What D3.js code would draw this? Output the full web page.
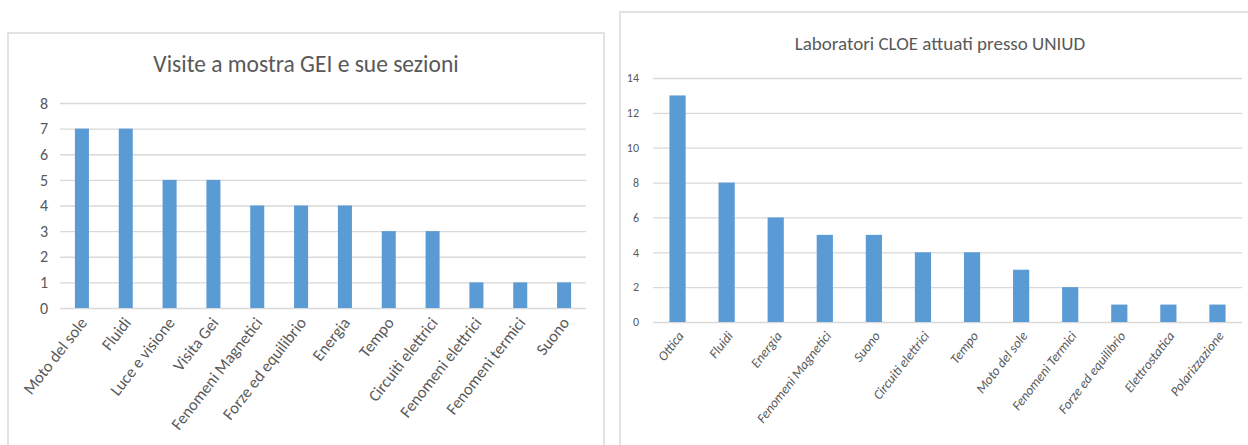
<!DOCTYPE html>
<html>
<head>
<meta charset="utf-8">
<script src="https://cdn.jsdelivr.net/npm/d3@7"></script>
<style>
  body { margin:0; background:#fff; }
  text { font-family: Carlito, "Liberation Sans Narrow", "Open Sans", sans-serif; fill:#595959; }
</style>
</head>
<body>
<script>
// chart 1 data
var gei_categories = ['Moto del sole','Fluidi','Luce e visione','Visita Gei','Fenomeni Magnetici','Forze ed equilibrio','Energia','Tempo','Circuiti elettrici','Fenomeni elettrici','Fenomeni termici','Suono'];
var gei_values = [7,7,5,5,4,4,4,3,3,1,1,1];
var gei_ticks = [0,1,2,3,4,5,6,7,8];

// chart 2 data
var cloe_categories = ['Ottica','Fluidi','Energia','Fenomeni Magnetici','Suono','Circuiti elettrici','Tempo','Moto del sole','Fenomeni Termici','Forze ed equilibrio','Elettrostatica','Polarizzazione'];
var cloe_values = [13,8,6,5,5,4,4,3,2,1,1,1];
var cloe_ticks = [0,2,4,6,8,10,12,14];

var barColor = "#5b9bd5";
var gridColor = "#d9d9d9";

var svg = d3.select("body").append("svg").attr("width",1248).attr("height",445);

function drawChart(cfg){
  var g = svg.append("g");
  g.append("rect")
    .attr("x",cfg.frame[0]).attr("y",cfg.frame[1])
    .attr("width",cfg.frame[2]).attr("height",cfg.frame[3])
    .attr("fill","#fff").attr("stroke","#d9d9d9").attr("stroke-width",1.5);

  var x = d3.scaleBand().domain(cfg.cats).range([cfg.left,cfg.right]).paddingInner(cfg.pad).paddingOuter(cfg.pad/2);
  var y = d3.scaleLinear().domain([0,d3.max(cfg.ticks)]).range([cfg.bottom,cfg.top]);

  var yAxis = d3.axisLeft(y).tickValues(cfg.ticks).tickSize(-(cfg.right-cfg.left)).tickPadding(cfg.yPad);
  var ya = g.append("g").attr("transform","translate("+cfg.left+",0)").call(yAxis);
  ya.select(".domain").remove();
  ya.selectAll(".tick line").attr("stroke",gridColor).attr("stroke-width",1.3);
  ya.selectAll(".tick text").attr("font-size",cfg.yFont).attr("fill","#595959");

  g.selectAll("rect.bar")
    .data(cfg.vals)
    .enter().append("rect")
      .attr("class","bar")
      .attr("x",function(d,i){ return x(cfg.cats[i]); })
      .attr("width",x.bandwidth())
      .attr("y",function(d){ return y(d); })
      .attr("height",function(d){ return y(0)-y(d); })
      .attr("fill",barColor);

  g.selectAll("text.xlab")
    .data(cfg.cats)
    .enter().append("text")
      .attr("class","xlab")
      .attr("text-anchor","end")
      .attr("font-size",cfg.xFont)
      .attr("font-style",cfg.italic ? "italic" : "normal")
      .attr("transform",function(d){
        var cx = x(d)+x.bandwidth()/2+cfg.lx;
        return "translate("+cx+","+(cfg.bottom+cfg.ly)+") rotate("+cfg.angle+")";
      })
      .text(function(d){ return d; });

  g.append("text")
    .attr("x",cfg.titleX).attr("y",cfg.titleY)
    .attr("text-anchor","middle")
    .attr("font-size",cfg.titleFont)
    .text(cfg.title);
}

drawChart({
  frame:[8,33,596,420], cats:gei_categories, vals:gei_values, ticks:gei_ticks,
  left:60, right:586, top:103, bottom:308, pad:0.68,
  yFont:16, yPad:12, xFont:16.5, italic:false, lx:6, ly:15, angle:-52,
  title:"Visite a mostra GEI e sue sezioni", titleX:306, titleY:72, titleFont:23.5
});

drawChart({
  frame:[620,12,640,440], cats:cloe_categories, vals:cloe_values, ticks:cloe_ticks,
  left:653, right:1242, top:78, bottom:322, pad:0.67,
  yFont:12, yPad:14, xFont:13.5, italic:true, lx:7, ly:14, angle:-52,
  title:"Laboratori CLOE attuati presso UNIUD", titleX:940, titleY:50, titleFont:19
});
</script>
</body>
</html>
